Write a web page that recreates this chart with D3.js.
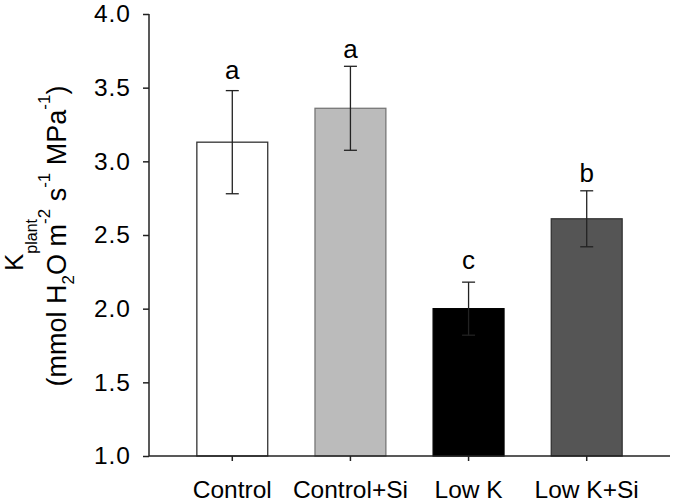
<!DOCTYPE html>
<html>
<head>
<meta charset="utf-8">
<script src="https://cdn.jsdelivr.net/npm/d3@7"></script>
<style>
  html, body { margin: 0; padding: 0; background: #fff; }
  svg { display: block; }
  text { font-family: "Liberation Sans", Arial, sans-serif; fill: #000; }
</style>
</head>
<body>
<svg id="chart" width="675" height="504"></svg>
<script>
const categories = ["Control", "Control+Si", "Low K", "Low K+Si"];
const means = [3.13, 3.36, 2.00, 2.61];
const errors = [0.35, 0.285, 0.18, 0.19];
const letters = ["a", "a", "c", "b"];
const letterPos = [3.56, 3.70, 2.27, 2.86];
const fills = ["#ffffff", "#bbbbbb", "#000000", "#555555"];
const strokes = ["#333333", "#777777", "#000000", "#333333"];
const yTicks = [1.0, 1.5, 2.0, 2.5, 3.0, 3.5, 4.0];

const svg = d3.select("#chart");
const mLeft = 149, mRight = 670, mTop = 14, mBottom = 456;

const x = d3.scaleBand().domain(categories).range([mLeft, mRight])
  .paddingInner(0.4).paddingOuter(0.405);
const y = d3.scaleLinear().domain([1, 4]).range([mBottom, mTop]);

const data = categories.map((c, i) => ({c, m: means[i], e: errors[i], l: letters[i], lp: letterPos[i], f: fills[i], s: strokes[i]}));

// bars
svg.append("g").selectAll("rect").data(data).join("rect")
  .attr("x", d => x(d.c))
  .attr("y", d => y(d.m))
  .attr("width", x.bandwidth())
  .attr("height", d => y(1) - y(d.m))
  .attr("fill", d => d.f)
  .attr("stroke", d => d.s)
  .attr("stroke-width", 1.3);

// error bars
const eb = svg.append("g").attr("stroke", "#222").attr("stroke-width", 1.3);
data.forEach(d => {
  const cx = x(d.c) + x.bandwidth() / 2;
  eb.append("line").attr("x1", cx).attr("x2", cx).attr("y1", y(d.m + d.e)).attr("y2", y(d.m - d.e));
  [d.m + d.e, d.m - d.e].forEach(v => {
    eb.append("line").attr("x1", cx - 6.5).attr("x2", cx + 6.5).attr("y1", y(v)).attr("y2", y(v));
  });
});

// letters
svg.append("g").selectAll("text").data(data).join("text")
  .attr("x", d => x(d.c) + x.bandwidth() / 2)
  .attr("y", d => y(d.lp))
  .attr("text-anchor", "middle")
  .attr("font-size", 26)
  .text(d => d.l);

// y axis
const yAxis = svg.append("g").attr("transform", `translate(${mLeft},0)`)
  .call(d3.axisLeft(y).tickValues(yTicks).tickFormat(d3.format(".1f")).tickSize(6).tickPadding(12));
yAxis.select(".domain").attr("stroke", "#222").attr("stroke-width", 1.5).attr("d", `M0,${mTop}V${mBottom}`);
yAxis.selectAll(".tick line").attr("stroke", "#222").attr("stroke-width", 1.5);
yAxis.selectAll(".tick text").attr("font-size", 24.5).attr("letter-spacing", 1)
  .attr("font-family", "Liberation Sans, Arial, sans-serif").attr("fill", "#000");

// x axis
const xAxis = svg.append("g").attr("transform", `translate(0,${mBottom})`)
  .call(d3.axisBottom(x).tickSize(5).tickPadding(20));
xAxis.select(".domain").attr("stroke", "#222").attr("stroke-width", 1.5).attr("d", `M${mLeft},0H${mRight}`);
xAxis.selectAll(".tick line").attr("stroke", "#222").attr("stroke-width", 1.5);
xAxis.selectAll(".tick text").attr("font-size", 24.5).attr("font-family", "Liberation Sans, Arial, sans-serif").attr("fill", "#000")
  .attr("dy", null).attr("y", 42);

// y label
const l1 = svg.append("text").attr("transform", `translate(23,245) rotate(-90)`)
  .attr("text-anchor", "middle").attr("font-size", 26);
l1.append("tspan").text("K");
l1.append("tspan").attr("font-size", 16).attr("dy", 14).text("plant");

const l2 = svg.append("text").attr("transform", `translate(66,236) rotate(-90)`)
  .attr("text-anchor", "middle").attr("font-size", 27);
const parts = [
  ["(mmol H", 0, 27],
  ["2", 8, 17],
  ["O m", -8, 27],
  ["-2", -16, 17],
  [" s", 16, 27],
  ["-1", -16, 17],
  [" MPa", 16, 27],
  ["-1", -16, 17],
  [")", 16, 27]
];
parts.forEach(p => {
  l2.append("tspan").attr("dy", p[1]).attr("font-size", p[2]).text(p[0]);
});
</script>
</body>
</html>
